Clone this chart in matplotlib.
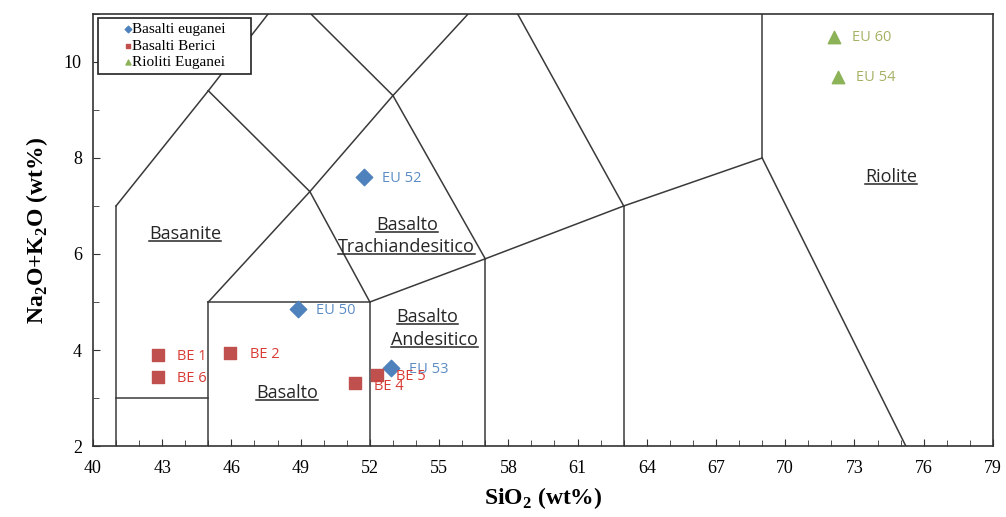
import numpy as np
import matplotlib
matplotlib.use('Agg')
import matplotlib.pyplot as plt
from matplotlib.lines import Line2D

plt.rcParams['mathtext.fontset'] = 'custom'
plt.rcParams['mathtext.rm'] = 'Liberation Serif'
plt.rcParams['mathtext.bf'] = 'Liberation Serif:bold'

# campioni
eu_x = [51.75, 48.9, 52.9]
eu_y = [7.6, 4.85, 3.63]
eu_lab = ['EU 52', 'EU 50', 'EU 53']

be_x = [42.8, 45.95, 51.35, 52.3, 42.8]
be_y = [3.9, 3.93, 3.32, 3.47, 3.44]
be_lab = ['BE 1', 'BE 2', 'BE 4', 'BE 5', 'BE 6']

rio_x = [72.1, 72.3]
rio_y = [10.52, 9.68]
rio_lab = ['EU 60', 'EU 54']

# limiti del diagramma TAS (Le Bas et al.)
tas_lines = [
    [(41, 0), (41, 7)], [(41, 7), (45, 9.4)], [(45, 9.4), (48.4, 11.5)],
    [(41, 3), (45, 3)], [(45, 0), (45, 5)], [(45, 5), (52, 5)],
    [(52, 0), (52, 5)], [(57, 0), (57, 5.9)], [(63, 0), (63, 7)],
    [(52, 5), (57, 5.9)], [(57, 5.9), (63, 7)], [(63, 7), (69, 8)],
    [(69, 8), (69, 13)], [(69, 8), (77.3, 0)],
    [(45, 5), (49.4, 7.3)], [(49.4, 7.3), (53, 9.3)], [(53, 9.3), (57.6, 11.7)],
    [(45, 9.4), (49.4, 7.3)], [(49.4, 7.3), (52, 5)],
    [(48.4, 11.5), (53, 9.3)], [(53, 9.3), (57, 5.9)], [(57.6, 11.7), (63, 7)],
]

# nomi dei campi (una riga per testo)
field_names = ['Basanite', 'Basalto', 'Basalto', 'Trachiandesitico',
               'Basalto', 'Andesitico', 'Riolite']
field_x = [44.0, 48.4, 53.6, 53.6, 54.5, 54.8, 74.6]
field_y = [6.41, 3.1, 6.61, 6.15, 4.69, 4.21, 7.6]

x_ticks = np.arange(40, 80, 3)
y_ticks = np.arange(2, 11, 2)

fig = plt.figure(figsize=(10.06, 5.17), dpi=100)
ax = fig.add_axes([0.0924, 0.1373, 0.8946, 0.8357])

for seg in tas_lines:
    xs, ys = zip(*seg)
    ax.plot(xs, ys, color='#3a3a3a', lw=1.1, zorder=1)

ax.scatter(eu_x, eu_y, marker='D', s=70, color='#4F81BD', zorder=3, label='Basalti euganei')
ax.scatter(be_x, be_y, marker='s', s=75, color='#C0504D', zorder=3, label='Basalti Berici')
ax.scatter(rio_x, rio_y, marker='^', s=80, color='#8DB359', zorder=3, label='Rioliti Euganei')

sans = ['Open Sans', 'DejaVu Sans']
for x, y, t in zip(eu_x, eu_y, eu_lab):
    ax.annotate(t, (x, y), xytext=(13, -1), textcoords='offset points',
                va='center', ha='left', fontsize=10.5, color='#5B8CC4', family=sans)
for x, y, t in zip(be_x, be_y, be_lab):
    dy = -3 if t == 'BE 4' else -1
    ax.annotate(t, (x, y), xytext=(14, dy), textcoords='offset points',
                va='center', ha='left', fontsize=10.5, color='#D83A34', family=sans)
for x, y, t in zip(rio_x, rio_y, rio_lab):
    ax.annotate(t, (x, y), xytext=(13, 0), textcoords='offset points',
                va='center', ha='left', fontsize=10.5, color='#A3B364', family=sans)

field_txt = []
for x, y, t in zip(field_x, field_y, field_names):
    field_txt.append(ax.text(x, y, t, ha='center', va='center', fontsize=13,
                             color='#262626', family=sans))

ax.set_xlim(40, 79)
ax.set_ylim(2, 11)
ax.set_xticks(x_ticks)
ax.set_xticks(np.arange(40, 80, 1), minor=True)
ax.set_yticks(y_ticks)
ax.set_yticks(np.arange(2, 12, 1), minor=True)
ax.tick_params(which='both', direction='in', color='#333333')
ax.tick_params(which='major', length=5, labelsize=13, pad=10)
ax.tick_params(which='minor', length=4)
ax.tick_params(axis='y', which='major', pad=8)
for lb in ax.get_xticklabels() + ax.get_yticklabels():
    lb.set_family('Liberation Serif')
for sp in ax.spines.values():
    sp.set_color('#333333')
    sp.set_linewidth(1.2)

ax.set_xlabel(r'SiO$_\mathbf{2}$ (wt%)', fontsize=17, fontweight='bold',
              family='Liberation Serif', labelpad=6)
ax.set_ylabel(r'Na$_\mathbf{2}$O+K$_\mathbf{2}$O (wt%)', fontsize=17, fontweight='bold',
              family='Liberation Serif', labelpad=10)

leg = ax.legend(loc='upper left', bbox_to_anchor=(0.0056, 0.852, 0.17, 0.139),
                mode='expand', fancybox=False,
                edgecolor='#222222', framealpha=1, prop={'family': 'Liberation Serif', 'size': 11},
                markerscale=0.4, handlelength=3.3, handletextpad=-1.4,
                borderpad=0.3, labelspacing=0.18, borderaxespad=0.0)
leg.get_frame().set_linewidth(1.2)

# sottolineatura dei nomi dei campi
fig.canvas.draw()
r = fig.canvas.get_renderer()
inv = fig.transFigure.inverted()
for t in field_txt:
    bb = t.get_window_extent(r)
    (x0, y0), (x1, _) = inv.transform([[bb.x0, bb.y0 + 2], [bb.x1, bb.y0 + 2]])
    fig.add_artist(Line2D([x0, x1], [y0, y0], color='#262626', lw=1.1))

fig.savefig('out.png', dpi=100)
